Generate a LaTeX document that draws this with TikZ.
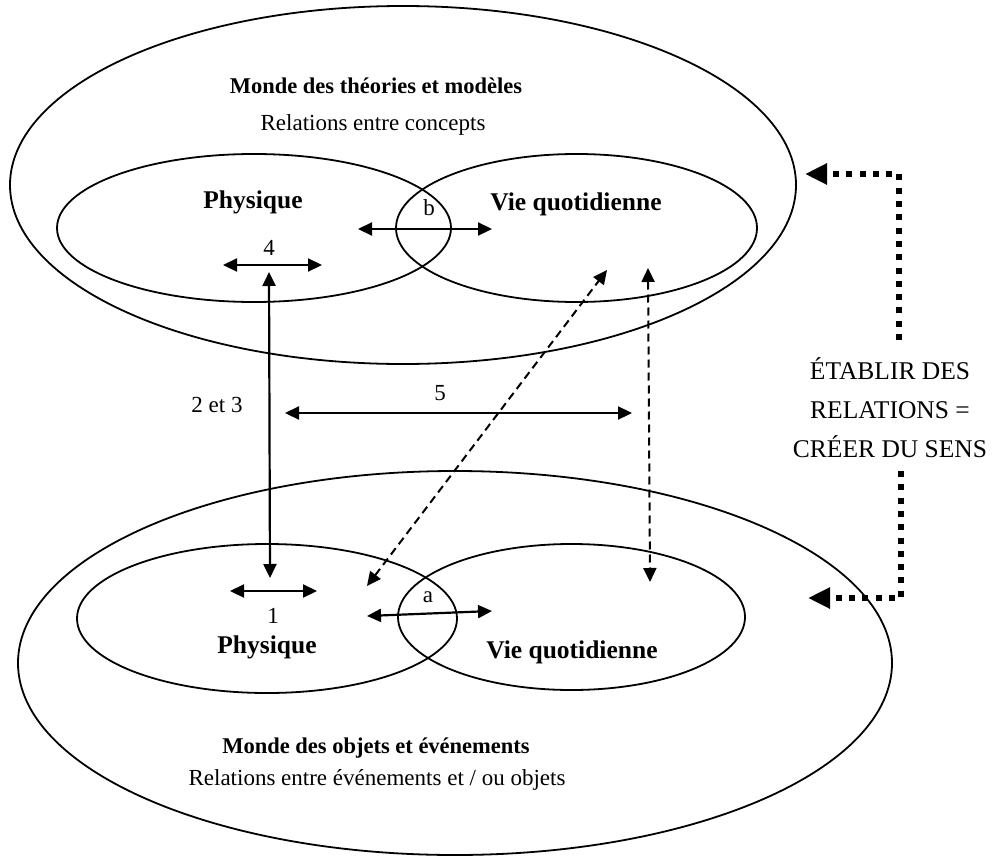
\documentclass[tikz,border=0pt]{standalone}
\usepackage{fontspec}
\setmainfont{Liberation Serif}
\usetikzlibrary{shapes.geometric,arrows.meta}

\tikzset{
  world/.style={draw, ellipse, line width=1.8pt, inner sep=0pt},
  field/.style={draw, ellipse, line width=1.8pt, inner sep=0pt},
  lbl/.style={anchor=base, inner sep=0pt, font=\fontsize{25.5}{30}\selectfont\bfseries},
  ttl/.style={anchor=base, inner sep=0pt, font=\fontsize{22.5}{28}\selectfont\bfseries},
  subttl/.style={anchor=base, inner sep=0pt, font=\fontsize{23}{28}\selectfont},
  num/.style={anchor=base, inner sep=0pt, font=\fontsize{23}{28}\selectfont},
  sidetxt/.style={anchor=base, inner sep=0pt, font=\fontsize{25.5}{28}\selectfont},
  mytip/.tip={Triangle[length=14pt,width=13pt]},
  bigtip/.tip={Triangle[length=22pt,width=20pt]},
  link/.style={line width=2.2pt, mytip-mytip},
  dlink/.style={line width=2pt, dash pattern=on 8pt off 5pt, mytip-mytip},
  fbloop/.style={line width=6pt, dash pattern=on 6pt off 7.3pt, -bigtip}
}

\begin{document}
\begin{tikzpicture}[x=1pt,y=-1pt]
\useasboundingbox (0,0) rectangle (995,856);

% the two worlds
\node[world, minimum width=786pt, minimum height=358pt] (theo) at (403,185) {};
\node[world, minimum width=874pt, minimum height=384pt] (obj) at (455,663) {};

% fields inside the world of theories and models
\node[field, minimum width=394pt, minimum height=148pt] (tphys) at (254,228) {};
\node[field, minimum width=361pt, minimum height=148pt] (tvie) at (576.5,228) {};

% fields inside the world of objects and events
\node[field, minimum width=380pt, minimum height=149pt] (ophys) at (267,618.5) {};
\node[field, minimum width=347pt, minimum height=146pt] (ovie) at (571.5,617) {};

% titles
\node[ttl] (ttheo) at (376,94) {Monde des théories et modèles};
\node[subttl] (stheo) at (373,131) {Relations entre concepts};
\node[ttl] (tobj) at (376,753) {Monde des objets et événements};
\node[subttl] (sobj) at (377,785) {Relations entre événements et / ou objets};

% field labels
\node[lbl] (lp1) at (253,208) {Physique};
\node[lbl] (lv1) at (576,210) {Vie quotidienne};
\node[lbl] (lp2) at (267,653) {Physique};
\node[lbl] (lv2) at (572,658) {Vie quotidienne};

% relation numbers
\node[num] (nb) at (429,215) {b};
\node[num] (n4) at (269,255) {4};
\node[num] (n23) at (217,412) {2 et 3};
\node[num] (n5) at (440,400) {5};
\node[num] (n1) at (273,623) {1};
\node[num] (na) at (428,602) {a};

% arrow end points
\coordinate (b1) at (358,229);  \coordinate (b2) at (492,229);
\coordinate (q1) at (223,265);  \coordinate (q2) at (322,265);
\coordinate (v1) at (269,272);  \coordinate (v2) at (270,578);
\coordinate (f1) at (285,413);  \coordinate (f2) at (632,413);
\coordinate (u1) at (230,591);  \coordinate (u2) at (317,591);
\coordinate (a1) at (367,616);  \coordinate (a2) at (492,611);
\coordinate (d1) at (367,586);  \coordinate (d2) at (607,270);
\coordinate (e1) at (648,268);  \coordinate (e2) at (650,582);

\draw[link] (b1) -- (b2);
\draw[link] (q1) -- (q2);
\draw[link] (v1) -- (v2);
\draw[link] (f1) -- (f2);
\draw[link] (u1) -- (u2);
\draw[link] (a1) -- (a2);
\draw[dlink] (d1) -- (d2);
\draw[dlink] (e1) -- (e2);

% side text and feedback loops
\node[sidetxt] (s1) at (890,379) {ÉTABLIR DES};
\node[sidetxt] (s2) at (890,418) {RELATIONS =};
\node[sidetxt] (s3) at (890,457) {CRÉER DU SENS};

\coordinate (lt0) at (899,340);
\coordinate (lt1) at (899,174);
\coordinate (lt2) at (805,174);
\coordinate (lb0) at (901,471);
\coordinate (lb1) at (901,598);
\coordinate (lb2) at (808,598);
\draw[fbloop] (lt0) -- (lt1) -- (lt2);
\draw[fbloop] (lb0) -- (lb1) -- (lb2);
\end{tikzpicture}
\end{document}
